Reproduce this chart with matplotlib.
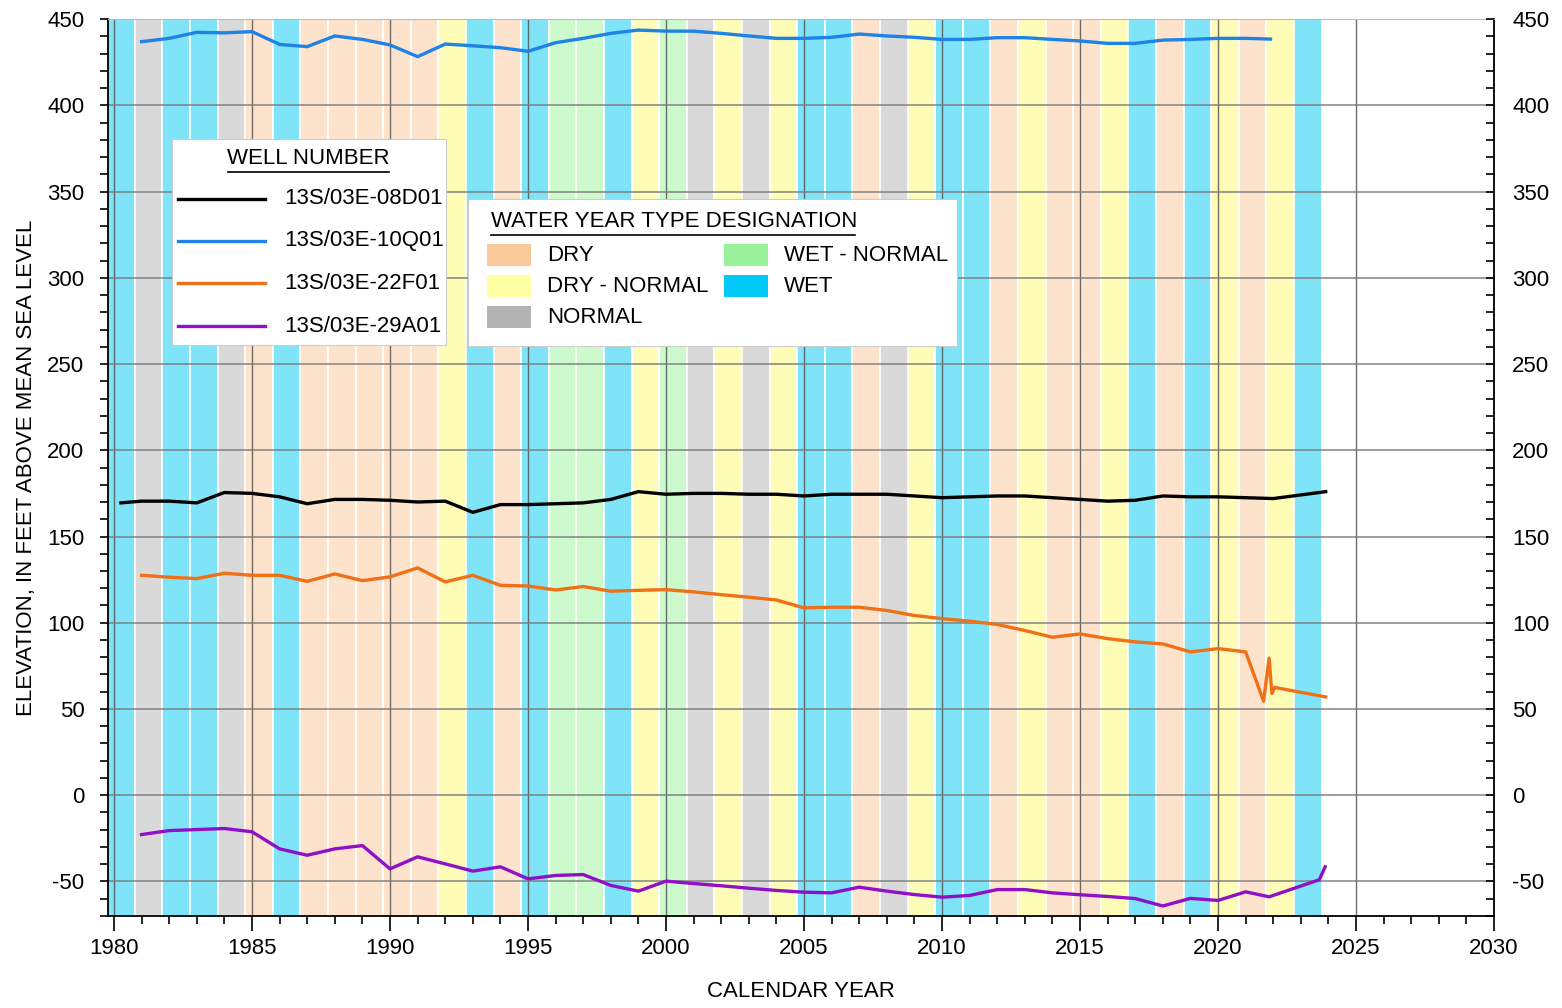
import numpy as np
import matplotlib.pyplot as plt
from matplotlib.patches import Rectangle
from matplotlib.lines import Line2D
from matplotlib.ticker import MultipleLocator

plt.rcParams['font.family'] = ['Liberation Sans', 'DejaVu Sans']
plt.rcParams['axes.unicode_minus'] = False

# --- water year types (WY1980 .. WY2023) ---
wy_years = list(range(1980, 2024))
wy_types = ['W', 'N', 'W', 'W', 'N', 'D', 'W', 'D', 'D', 'D', 'D', 'D', 'DN', 'W', 'D',
            'W', 'WN', 'WN', 'W', 'DN', 'WN', 'N', 'DN', 'N', 'DN', 'W', 'W', 'D', 'N', 'DN',
            'W', 'W', 'D', 'DN', 'D', 'D', 'DN', 'W', 'D', 'W', 'DN', 'D', 'DN', 'W']

band_colors = {'D': '#fde3cc', 'DN': '#fefcb6', 'N': '#d9d9d9', 'WN': '#ccfacc', 'W': '#80e4f8'}
patch_colors = {'D': '#fbc89a', 'DN': '#ffffa4', 'N': '#b3b3b3', 'WN': '#99f299', 'W': '#00c8f8'}
type_labels = {'D': 'DRY', 'DN': 'DRY - NORMAL', 'N': 'NORMAL', 'WN': 'WET - NORMAL', 'W': 'WET'}

# --- well hydrographs ---
yrs_08d01 = [1980.25] + list(range(1981, 2023)) + [2023.9]
elev_08d01 = [169.5, 170.5, 170.5, 169.5, 175.5, 175, 173, 169, 171.5, 171.5, 171, 170, 170.5,
              164, 168.5, 168.5, 169, 169.5, 171.5, 176, 174.5, 175, 175, 174.5, 174.5, 173.5,
              174.5, 174.5, 174.5, 173.5, 172.5, 173, 173.5, 173.5, 172.5, 171.5, 170.5, 171,
              173.5, 173, 173, 172.5, 172, 176]

yrs_10q01 = list(range(1981, 2022)) + [2021.9]
elev_10q01 = [436.9, 438.8, 442.3, 442, 442.7, 435.3, 434, 440.2, 438.2, 435, 428.2, 435.5,
              434.5, 433.4, 431.3, 436.3, 438.8, 441.7, 443.6, 443, 443, 441.7, 440.2, 438.8,
              438.8, 439.4, 441.3, 440.2, 439.4, 438.2, 438.2, 439.2, 439.2, 438.2, 437.3,
              435.9, 435.9, 437.8, 438.2, 438.8, 438.8, 438.4]

yrs_22f01 = list(range(1981, 2022)) + [2021.65, 2021.85, 2021.95, 2022.05, 2023.9]
elev_22f01 = [127.5, 126.4, 125.6, 128.7, 127.5, 127.5, 124, 128.3, 124.4, 126.6, 131.8, 123.7,
              127.5, 121.7, 121.3, 119, 121, 118.3, 118.8, 119.2, 117.9, 116.3, 114.8, 113.2,
              108.6, 109, 109, 107.1, 104.2, 102.4, 100.9, 99, 95.5, 91.6, 93.5, 90.8, 88.9,
              87.7, 83.1, 85, 83.1, 54.5, 79.5, 59, 62.5, 57]

yrs_29a01 = list(range(1981, 2022)) + [2021.85, 2023.67, 2023.88]
elev_29a01 = [-22.8, -20.5, -19.9, -19.3, -21.2, -31.1, -34.8, -31.1, -29.2, -42.7, -35.7,
              -39.8, -44, -41.5, -48.5, -46.5, -46, -52.3, -55.6, -49.8, -51.2, -52.5, -53.9,
              -55.2, -56.2, -56.6, -53.3, -55.6, -57.6, -59.1, -58.1, -54.7, -54.7, -56.6,
              -57.7, -58.7, -59.9, -64.2, -59.8, -61, -56, -58.9, -49, -41.5]

wells = ['13S/03E-08D01', '13S/03E-10Q01', '13S/03E-22F01', '13S/03E-29A01']
well_colors = ['#000000', '#1e82e6', '#f07018', '#9010c8']
series = [(yrs_08d01, elev_08d01), (yrs_10q01, elev_10q01),
          (yrs_22f01, elev_22f01), (yrs_29a01, elev_29a01)]

FS = 16

fig = plt.figure(figsize=(15.62, 10.08), dpi=100)
ax = fig.add_axes([0.0691, 0.0913, 0.8874, 0.8898])

for wy, t in zip(wy_years, wy_types):
    ax.axvspan(wy - 0.25, wy + 0.75, facecolor=band_colors[t], edgecolor='white',
               linewidth=1.2, zorder=0.1)

for (x, y), c in zip(series, well_colors):
    ax.plot(x, y, color=c, linewidth=2.4, zorder=3)

ax.set_xlim(1979.78, 2030)
ax.set_ylim(-70, 450)
ax.xaxis.set_major_locator(MultipleLocator(5))
ax.xaxis.set_minor_locator(MultipleLocator(1))
ax.yaxis.set_major_locator(MultipleLocator(50))
ax.yaxis.set_minor_locator(MultipleLocator(10))
ax.set_axisbelow(True)
ax.xaxis.grid(True, which='major', color='#555555', linewidth=1.0, alpha=0.85)
ax.yaxis.grid(True, which='major', color='#7a7a7a', linewidth=1.2, alpha=0.85)
ax.tick_params(which='major', direction='out', length=11, width=1.2, labelsize=FS, pad=5)
ax.tick_params(which='minor', direction='out', length=6, width=1.2)
ax.tick_params(axis='y', which='major', length=6, pad=11)
for s in ['left', 'bottom', 'right']:
    ax.spines[s].set_linewidth(1.3)
ax.spines['top'].set_color('#bbbbbb')

ax2 = ax.twinx()
ax2.set_ylim(ax.get_ylim())
ax2.yaxis.set_major_locator(MultipleLocator(50))
ax2.yaxis.set_minor_locator(MultipleLocator(10))
ax2.tick_params(which='major', direction='in', length=6, width=1.2, labelsize=FS, pad=13)
ax2.tick_params(which='minor', direction='in', length=6, width=1.2)
for s in ax2.spines.values():
    s.set_visible(False)

ax.set_xlabel('CALENDAR YEAR', fontsize=FS, labelpad=16)
ax.set_ylabel('ELEVATION, IN FEET ABOVE MEAN SEA LEVEL', fontsize=FS, labelpad=7)

# --- legend: well number ---
lg1 = fig.add_axes([0.1101, 0.6577, 0.1754, 0.2044])
lg1.set_xlim(0, 1)
lg1.set_ylim(0, 1)
lg1.set_xticks([])
lg1.set_yticks([])
for s in lg1.spines.values():
    s.set_color('#cccccc')
lg1.text(0.496, 0.905, 'WELL NUMBER', ha='center', va='center', fontsize=FS)
lg1.plot([0.204, 0.792], [0.842, 0.842], color='black', linewidth=1.2)
for yy, name, c in zip([0.709, 0.505, 0.301, 0.092], wells, well_colors):
    lg1.add_line(Line2D([0.022, 0.339], [yy, yy], color=c, linewidth=2.4))
    lg1.text(0.41, yy, name, ha='left', va='center', fontsize=FS)

# --- legend: water year type ---
lg2 = fig.add_axes([0.2996, 0.6567, 0.3131, 0.1458])
lg2.set_xlim(0, 1)
lg2.set_ylim(0, 1)
lg2.set_xticks([])
lg2.set_yticks([])
for s in lg2.spines.values():
    s.set_color('#cccccc')
lg2.text(0.047, 0.85, 'WATER YEAR TYPE DESIGNATION', ha='left', va='center', fontsize=FS)
lg2.plot([0.047, 0.791], [0.758, 0.758], color='black', linewidth=1.2)
legend_layout = [('D', 0.039, 0.619), ('DN', 0.039, 0.408), ('N', 0.039, 0.197),
                 ('WN', 0.524, 0.619), ('W', 0.524, 0.408)]
for t, x0, yc in legend_layout:
    lg2.add_patch(Rectangle((x0, yc - 0.075), 0.09, 0.15, facecolor=patch_colors[t],
                            edgecolor='none'))
    lg2.text(x0 + 0.123, yc, type_labels[t], ha='left', va='center', fontsize=FS)

fig.savefig('out.png', dpi=100)
